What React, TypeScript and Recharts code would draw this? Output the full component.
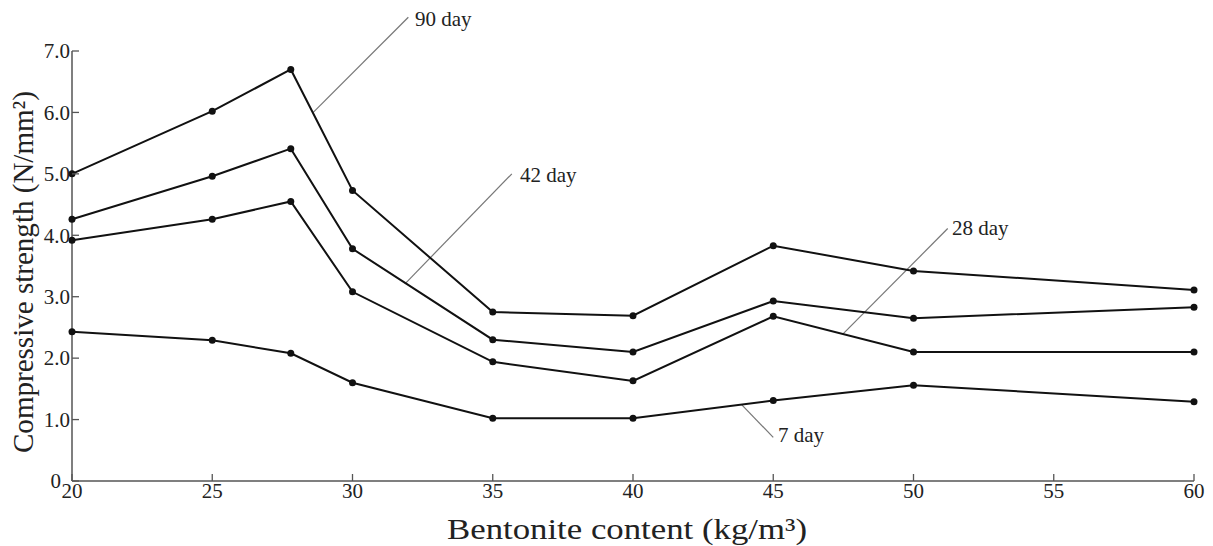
import { LineChart, Line, XAxis, YAxis, ReferenceLine, ReferenceDot } from 'recharts'

// bentonite content (kg/m3)
const bentonite = [20, 25, 27.8, 30, 35, 40, 45, 50, 60]

// compressive strength (N/mm2) by curing age
const day90 = [5.0, 6.02, 6.7, 4.73, 2.75, 2.69, 3.83, 3.42, 3.11]
const day42 = [4.26, 4.96, 5.41, 3.78, 2.3, 2.1, 2.93, 2.65, 2.83]
const day28 = [3.92, 4.26, 4.55, 3.08, 1.94, 1.63, 2.68, 2.1, 2.1]
const day7 = [2.43, 2.29, 2.08, 1.6, 1.02, 1.02, 1.31, 1.56, 1.29]

const xTicks = [20, 25, 30, 35, 40, 45, 50, 55, 60]
const yTicks = [0, 1, 2, 3, 4, 5, 6, 7]

// leader lines: label, from (on curve), to (label end), text anchor
const calloutNames = ['90 day', '42 day', '28 day', '7 day']
const calloutFrom = [
  [28.6, 6.0],
  [31.87, 3.21],
  [47.48, 2.39],
  [43.88, 1.24],
]
const calloutTo = [
  [31.99, 7.55],
  [35.68, 5.0],
  [51.22, 4.11],
  [45.0, 0.71],
]
const calloutText = [
  [32.23, 7.52],
  [35.97, 4.98],
  [51.37, 4.13],
  [45.17, 0.76],
]

const FONT = '"Liberation Serif", "Times New Roman", serif'
const AXIS = '#555'
const INK = '#111'

const chartData = bentonite.map((x, i) => ({
  x,
  d90: day90[i],
  d42: day42[i],
  d28: day28[i],
  d7: day7[i],
}))

function XTick(props: any) {
  const { x, y, payload } = props
  return (
    <g>
      <line x1={x} y1={y} x2={x} y2={y - 7} stroke={AXIS} strokeWidth={1.3} />
      <text x={x} y={y + 17} textAnchor="middle" fontFamily={FONT} fontSize={21} fill="#222">
        {payload.value}
      </text>
    </g>
  )
}

function YTick(props: any) {
  const { x, y, payload } = props
  const v = payload.value
  return (
    <g>
      <line x1={x} y1={y} x2={x + 7} y2={y} stroke={AXIS} strokeWidth={1.3} />
      <text
        x={v === 0 ? x - 11 : x - 2}
        y={y}
        dy="0.35em"
        textAnchor="end"
        fontFamily={FONT}
        fontSize={21}
        fill="#222"
      >
        {v === 0 ? '0' : v.toFixed(1)}
      </text>
    </g>
  )
}

function XTitle(props: any) {
  const { viewBox } = props
  const cx = viewBox.x + viewBox.width / 2 - 6
  return (
    <text
      x={cx}
      y={539}
      textAnchor="middle"
      fontFamily={FONT}
      fontSize={30}
      fill="#222"
      textLength={360}
      lengthAdjust="spacingAndGlyphs"
    >
      Bentonite content (kg/m³)
    </text>
  )
}

function YTitle(props: any) {
  const { viewBox } = props
  const cy = viewBox.y + viewBox.height / 2 + 6
  return (
    <text
      transform={`translate(33, ${cy}) rotate(-90)`}
      x={0}
      y={0}
      textAnchor="middle"
      fontFamily={FONT}
      fontSize={30}
      fill="#222"
      textLength={362}
      lengthAdjust="spacingAndGlyphs"
    >
      Compressive strength (N/mm²)
    </text>
  )
}

const dot = { r: 3.5, fill: INK, stroke: INK, strokeWidth: 0 }

export default function App() {
  return (
    <div style={{ position: 'absolute', left: 0, top: 0, background: '#fff' }}>
      <LineChart
        width={1213}
        height={546}
        data={chartData}
        margin={{ top: 51, right: 19, bottom: 0, left: 0 }}
      >
        <XAxis
          type="number"
          dataKey="x"
          domain={[20, 60]}
          ticks={xTicks}
          height={65}
          tickSize={0}
          tickMargin={0}
          tick={<XTick />}
          axisLine={{ stroke: AXIS, strokeWidth: 1.5 }}
          label={{ content: <XTitle /> }}
        />
        <YAxis
          type="number"
          domain={[0, 7]}
          ticks={yTicks}
          width={72}
          tickSize={0}
          tickMargin={0}
          tick={<YTick />}
          axisLine={{ stroke: AXIS, strokeWidth: 1.5 }}
          label={{ content: <YTitle /> }}
        />
        {calloutNames.map((name, i) => (
          <ReferenceLine
            key={'l' + name}
            segment={[
              { x: calloutFrom[i][0], y: calloutFrom[i][1] },
              { x: calloutTo[i][0], y: calloutTo[i][1] },
            ]}
            stroke="#777"
            strokeWidth={1.2}
            ifOverflow="visible"
          />
        ))}
        <Line dataKey="d90" stroke={INK} strokeWidth={2} dot={dot} activeDot={false} isAnimationActive={false} />
        <Line dataKey="d42" stroke={INK} strokeWidth={2} dot={dot} activeDot={false} isAnimationActive={false} />
        <Line dataKey="d28" stroke={INK} strokeWidth={2} dot={dot} activeDot={false} isAnimationActive={false} />
        <Line dataKey="d7" stroke={INK} strokeWidth={2} dot={dot} activeDot={false} isAnimationActive={false} />
        {calloutNames.map((name, i) => (
          <ReferenceDot
            key={'t' + name}
            x={calloutText[i][0]}
            y={calloutText[i][1]}
            ifOverflow="visible"
            shape={(p: any) => (
              <text x={p.cx} y={p.cy} dy="0.35em" fontFamily={FONT} fontSize={21} fill="#222">
                {name}
              </text>
            )}
          />
        ))}
      </LineChart>
    </div>
  )
}
